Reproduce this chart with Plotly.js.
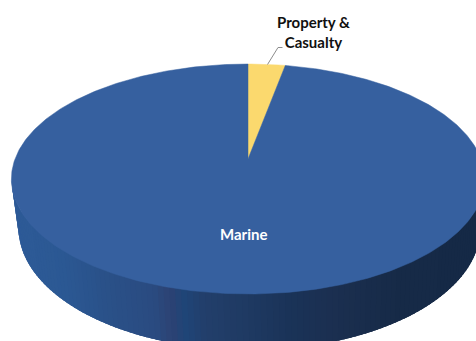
<!DOCTYPE html>
<html>
<head>
<meta charset="utf-8">
<script src="https://cdn.plot.ly/plotly-3.0.1.min.js"></script>
<style>html,body{margin:0;padding:0;background:#fff;overflow:hidden}#chart{width:476px;height:341px}</style>
</head>
<body>
<div id="chart"></div>
<script>
// Data
const categories = ["Property &<br>Casualty", "Marine"];
const shares = [3, 97];
const sliceColors = ["#fbd96e", "#36609f"];
const labelColors = ["#111111", "#ffffff"];

// Wall shading by page x along the visible rim
const wallStops = [
  [0, "#2e5b98"], [60, "#2b5893"], [100, "#2a5189"], [150, "#2a4b80"], [167, "#2c4273"],
  [180, "#1f4578"], [200, "#223f6b"], [240, "#1f3a63"], [287, "#1a3358"],
  [330, "#1b2f50"], [400, "#162a47"], [476, "#152946"]
];

// Projection of the disc on the page (axes are in page-like units)
const apexX = 248, apexY = 159, persp = 0.174, kx = 233, ky = 111.5;
const wallTop = {cx: 248, cy: 179, rx: 236.5, ry: 113.5};
const wallBase = {cx: 249.5, cy: 228, rx: 231, ry: 122};

function rim(theta) {
  const u = Math.sin(theta), v = Math.cos(theta), w = 1 + persp * v;
  return [apexX + kx * u / w, apexY - ky * v / w];
}
function hex(c) { return [1, 3, 5].map(i => parseInt(c.substr(i, 2), 16)); }
function wallColor(x) {
  for (let i = 1; i < wallStops.length; i++) {
    if (x <= wallStops[i][0]) {
      const a = wallStops[i - 1], b = wallStops[i], f = (x - a[0]) / (b[0] - a[0]);
      const ca = hex(a[1]), cb = hex(b[1]);
      return "rgb(" + ca.map((c, k) => Math.round(c + (cb[k] - c) * f)).join(",") + ")";
    }
  }
  return wallStops[wallStops.length - 1][1];
}

const traces = [];
// Side wall
const strips = 120;
for (let i = 0; i < strips; i++) {
  const p0 = Math.PI * (1 - i / strips), p1 = Math.PI * (1 - (i + 2.5) / strips);
  const pt = (e, p) => [e.cx + e.rx * Math.cos(p), e.cy + e.ry * Math.sin(p)];
  const a = pt(wallTop, p0), b = pt(wallTop, p1), c = pt(wallBase, p1), d = pt(wallBase, p0);
  traces.push({
    type: "scatter", mode: "lines", fill: "toself",
    x: [a[0], b[0], c[0], d[0], a[0]], y: [a[1], b[1], c[1], d[1], a[1]],
    line: {width: 0}, fillcolor: wallColor(a[0]),
    hoverinfo: "skip", showlegend: false
  });
}
// Top face, one sector per category, clockwise from 12 o'clock
const total = shares.reduce((s, v) => s + v, 0);
let start = 0;
shares.forEach((v, i) => {
  const sweep = 2 * Math.PI * v / total, n = Math.max(16, Math.round(v * 5));
  const xs = [apexX], ys = [apexY];
  for (let k = 0; k <= n; k++) {
    const q = rim(start + sweep * k / n);
    xs.push(q[0]); ys.push(q[1]);
  }
  xs.push(apexX); ys.push(apexY);
  traces.push({
    type: "scatter", mode: "lines", fill: "toself", x: xs, y: ys,
    name: categories[i].replace("<br>", " "),
    line: {width: 0.5, color: sliceColors[i]}, fillcolor: sliceColors[i],
    hoverinfo: "name", showlegend: false
  });
  start += sweep;
});
// Leader line for the small slice
traces.push({
  type: "scatter", mode: "lines", x: [267.5, 278, 282.5], y: [64.5, 47.5, 47.5],
  line: {width: 1, color: "#8c8c8c"}, hoverinfo: "skip", showlegend: false
});

const layout = {
  width: 476, height: 341,
  margin: {l: 0, r: 0, t: 0, b: 0},
  paper_bgcolor: "#ffffff", plot_bgcolor: "#ffffff",
  xaxis: {range: [0, 476], visible: false, fixedrange: true},
  yaxis: {range: [341, 0], visible: false, fixedrange: true},
  showlegend: false,
  annotations: [
    {x: 313, y: 31.5, text: categories[0], showarrow: false,
     font: {family: "Lato, Carlito, sans-serif", size: 15, color: labelColors[0], weight: 700}, align: "center"},
    {x: 243.5, y: 234, text: categories[1], showarrow: false,
     font: {family: "Lato, Carlito, sans-serif", size: 15, color: labelColors[1], weight: 700}, align: "center"}
  ]
};
Plotly.newPlot("chart", traces, layout, {displayModeBar: false, staticPlot: true});
</script>
</body>
</html>
